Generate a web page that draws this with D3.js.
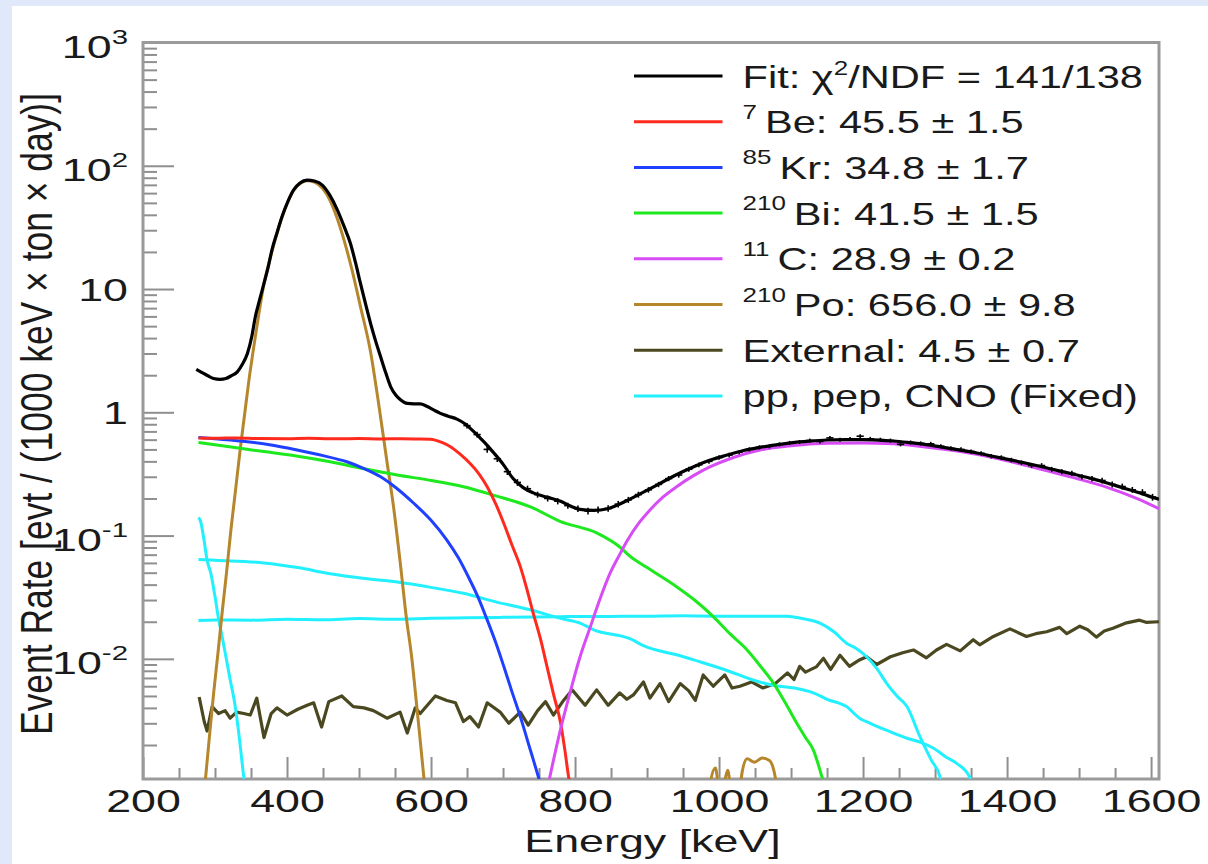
<!DOCTYPE html>
<html><head><meta charset="utf-8">
<script src="https://cdn.jsdelivr.net/npm/d3@7"></script>
<style>
body{margin:0;background:#dfe9fa;}
svg{display:block;}
text{font-family:"Liberation Sans",Arial,Helvetica,sans-serif;fill:#1a1a1a;}
</style>
</head><body>
<svg id="c" width="1208" height="864"></svg>
<script>
// ---------------- DATA ----------------
const energyDomain = [200, 1611];
const rateDomain = [1.06e-3, 1000];
const xMajorTicks = [200, 400, 600, 800, 1000, 1200, 1400, 1600];
const xTickLabels = ["200", "400", "600", "800", "1000", "1200", "1400", "1600"];
const yDecadeTicks = [1e-2, 1e-1, 1, 10, 100, 1000];
const yTickBase = ["10", "10", "1", "10", "10", "10"];
const yTickExp = ["-2", "-1", "", "", "2", "3"];
const xTitle = "Energy [keV]";
const yTitle = "Event Rate [evt / (1000 keV \u00d7 ton \u00d7 day)]";

const legendSup = ["", "7", "85", "210", "11", "210", "", ""];
const legendMain = ["Fit: \u03c7|2|/NDF = 141/138", "Be: 45.5 \u00b1 1.5", "Kr: 34.8 \u00b1 1.7", "Bi: 41.5 \u00b1 1.5",
  "C: 28.9 \u00b1 0.2", "Po: 656.0 \u00b1 9.8", "External: 4.5 \u00b1 0.7", "pp, pep, CNO (Fixed)"];

// Fit (black)
const fitE = [274,282,290,298,307,315,322,331,338,345,351,356,362,368,374,379,386,393,401,409,418,428,438,449,460,470,479,488,495,502,509,516,523,530,537,544,551,558,567,576,585,594,603,613,624,636,648,659,668,678,687,700,714,728,742,761,780,795,807,826,845,860,872,895,918,940,964,988,1011,1034,1057,1080,1100,1125,1150,1175,1200,1221,1242,1265,1290,1312,1335,1358,1380,1403,1427,1450,1474,1497,1520,1540,1560,1580,1596,1611];
const fitV = [2.23,2.1,1.98,1.88,1.85,1.88,1.97,2.13,2.45,3.0,4.1,5.96,8.2,11.1,15.2,20.7,28.5,38.6,51,63.5,72.5,76.6,75.2,69.7,57,43.7,32.5,23.5,16.5,11.1,7.6,5.27,3.8,2.82,2.1,1.61,1.38,1.26,1.18,1.17,1.17,1.12,1.05,0.98,0.93,0.88,0.80,0.70,0.62,0.54,0.47,0.38,0.29,0.245,0.222,0.205,0.19,0.172,0.163,0.16,0.165,0.178,0.192,0.225,0.265,0.31,0.36,0.41,0.45,0.49,0.52,0.545,0.565,0.583,0.596,0.60,0.60,0.595,0.585,0.567,0.545,0.52,0.494,0.468,0.44,0.413,0.386,0.36,0.333,0.31,0.287,0.266,0.245,0.226,0.21,0.197];

// Data points
const dataE = [650,664,678,692,706,720,734,748,762,776,790,804,818,832,846,860,874,888,902,916,930,944,958,972,986,1000,1014,1028,1042,1056,1070,1084,1098,1112,1126,1140,1154,1168,1182,1196,1210,1224,1238,1252,1266,1280,1294,1308,1322,1336,1350,1364,1378,1392,1406,1420,1434,1448,1462,1476,1490,1504,1518,1532,1546,1560,1574,1588,1602];
const dataV = [0.78,0.66,0.50,0.42,0.33,0.27,0.24,0.215,0.20,0.19,0.175,0.165,0.158,0.162,0.166,0.18,0.195,0.215,0.235,0.26,0.29,0.31,0.345,0.375,0.40,0.43,0.45,0.475,0.50,0.52,0.53,0.55,0.565,0.575,0.59,0.58,0.62,0.60,0.61,0.64,0.61,0.60,0.59,0.55,0.57,0.56,0.555,0.53,0.51,0.50,0.48,0.465,0.44,0.43,0.41,0.39,0.37,0.37,0.345,0.33,0.32,0.30,0.29,0.28,0.26,0.25,0.235,0.225,0.205];
const dataErr = [0.04,0.035,0.03,0.025,0.02,0.017,0.014,0.012,0.011,0.011,0.01,0.01,0.01,0.01,0.01,0.011,0.011,0.012,0.012,0.013,0.014,0.015,0.016,0.017,0.018,0.018,0.019,0.019,0.02,0.02,0.02,0.021,0.021,0.021,0.022,0.022,0.022,0.022,0.022,0.023,0.022,0.022,0.022,0.021,0.021,0.021,0.021,0.02,0.02,0.02,0.019,0.019,0.018,0.018,0.018,0.017,0.017,0.017,0.016,0.016,0.016,0.015,0.015,0.015,0.014,0.014,0.013,0.013,0.013];

// 7Be (red)
const beE = [277,300,330,360,400,430,460,500,530,560,580,599,615,627,640,654,666,678,690,701,712,724,733,742,752,761,770,780,786,791,796];
const beV = [0.62,0.615,0.62,0.612,0.61,0.615,0.61,0.612,0.608,0.61,0.608,0.605,0.57,0.526,0.46,0.386,0.32,0.249,0.18,0.126,0.085,0.056,0.037,0.0234,0.0145,0.0087,0.0052,0.003,0.0018,0.00111,0.0008];
// 85Kr (blue)
const krE = [277,300,345,380,414,450,483,507,530,553,576,600,622,638,654,666,678,690,701,712,724,737,749,756];
const krV = [0.625,0.61,0.578,0.54,0.494,0.445,0.397,0.35,0.30,0.24,0.183,0.133,0.092,0.066,0.0436,0.031,0.0207,0.0135,0.0087,0.0055,0.0034,0.0019,0.00111,0.0008];
// 210Bi (green)
const biE = [277,300,335,368,415,460,505,553,600,645,690,738,780,830,863,877,900,941,966,992,1015,1039,1057,1076,1092,1108,1120,1131,1143,1150];
const biV = [0.57,0.545,0.51,0.48,0.44,0.397,0.35,0.31,0.28,0.249,0.21,0.171,0.13,0.105,0.08,0.0675,0.055,0.0385,0.03,0.022,0.016,0.0118,0.0088,0.0063,0.0044,0.003,0.0023,0.00182,0.0011,0.0008];
// 11C (magenta)
const cE = [760,765,780,793,807,821,835,849,863,872,888,904,922,941,964,988,1020,1057,1100,1150,1200,1242,1290,1335,1380,1427,1460,1497,1540,1580,1611];
const cV = [0.0008,0.0011,0.0027,0.0053,0.0104,0.018,0.031,0.05,0.072,0.09,0.125,0.161,0.205,0.249,0.305,0.362,0.43,0.494,0.535,0.56,0.565,0.555,0.52,0.48,0.43,0.37,0.33,0.29,0.245,0.2,0.165];
// 210Po (brown)
const poE = [283,287,293,298,304,310,316,322,328,335,341,347,356,368,379,393,409,420,428,437,449,460,470,480,490,502,516,527,539,548,557,566,573,581,590,594,600,970,980,988,995,1001,1006,1012,1017,1026,1032,1039,1049,1060,1070,1078,1084,1095,1611];
const poV = [0.0006,0.0011,0.0026,0.0052,0.011,0.024,0.05,0.11,0.22,0.5,0.95,1.8,4.1,11,20,38,63,73,75.5,74,66,52,37,24,14.5,7.2,3.1,1.2,0.39,0.17,0.062,0.021,0.0105,0.0037,0.0011,0.0006,0.0002,0.0002,0.0004,0.001,0.0013,0.0008,0.0009,0.00125,0.0008,0.0006,0.0012,0.00155,0.00145,0.00157,0.0015,0.0011,0.0006,0.0002,0.0002];
// External (dark olive)
const extE = [278,285,289,296,305,314,321,330,340,349,358,368,378,386,400,415,428,437,448,458,476,492,507,520,539,557,567,578,585,606,622,634,645,654,666,678,696,708,724,735,748,759,770,784,796,814,830,846,862,872,881,895,904,918,930,946,958,967,978,992,1008,1018,1029,1045,1061,1078,1095,1104,1112,1120,1135,1145,1155,1168,1181,1195,1205,1219,1238,1255,1270,1288,1302,1316,1335,1353,1362,1381,1404,1427,1440,1455,1473,1483,1501,1512,1524,1535,1547,1566,1584,1593,1611];
const extV = [0.0049,0.0031,0.0026,0.0041,0.0036,0.0038,0.0033,0.0037,0.0036,0.0035,0.0048,0.0023,0.0036,0.004,0.0035,0.0039,0.0042,0.0044,0.0028,0.0045,0.005,0.0041,0.004,0.0038,0.0033,0.0037,0.0025,0.004,0.0036,0.005,0.0046,0.0044,0.0031,0.0034,0.0028,0.0044,0.0037,0.003,0.0037,0.0029,0.0038,0.0045,0.0035,0.0046,0.0056,0.0042,0.0056,0.0042,0.0053,0.0047,0.0051,0.0065,0.0048,0.0063,0.0045,0.0063,0.0055,0.0046,0.0074,0.006,0.0074,0.0058,0.006,0.0065,0.0058,0.0063,0.0077,0.0068,0.0087,0.0078,0.0086,0.0101,0.0082,0.0107,0.0087,0.0098,0.0104,0.009,0.0104,0.0112,0.0118,0.0102,0.0118,0.0131,0.0116,0.0143,0.013,0.0152,0.0175,0.0152,0.016,0.0166,0.018,0.016,0.0184,0.0172,0.015,0.0168,0.0177,0.0196,0.0206,0.0198,0.02];
// pp (cyan, steep)
const ppE = [277,280,285,289,294,300,305,310,316,321,327,333,340,345];
const ppV = [0.14,0.13,0.09,0.063,0.05,0.032,0.021,0.015,0.0098,0.0068,0.0045,0.0025,0.0011,0.0007];
// pep (cyan, flat)
const pepE = [277,300,350,400,450,500,550,600,650,700,780,850,900,950,1000,1050,1094,1120,1140,1160,1177,1190,1205,1220,1233,1247,1261,1279,1295,1307,1312];
const pepV = [0.0205,0.0207,0.0206,0.021,0.0208,0.0212,0.021,0.0213,0.0215,0.0217,0.022,0.0221,0.0222,0.0224,0.0222,0.0222,0.0222,0.021,0.0195,0.0165,0.0134,0.0122,0.0104,0.0082,0.0063,0.005,0.0041,0.00234,0.0015,0.0011,0.0008];
// CNO (cyan)
const cnoE = [277,300,368,415,460,505,553,600,645,690,738,780,807,826,877,895,946,965,1015,1045,1075,1105,1131,1150,1177,1195,1210,1235,1261,1280,1298,1315,1330,1348,1353];
const cnoV = [0.064,0.063,0.06,0.055,0.049,0.045,0.042,0.038,0.034,0.029,0.025,0.0213,0.0195,0.0172,0.0145,0.0128,0.0106,0.0098,0.0079,0.0068,0.0061,0.0058,0.0053,0.0047,0.0041,0.0033,0.003,0.0026,0.00227,0.0021,0.00188,0.0016,0.00142,0.0011,0.0008];

// ---------------- DRAWING ----------------
const W = 1208, H = 864;
const plot = {left: 143, right: 1159, top: 42.5, bottom: 779};
const SX = 1.4;         // horizontal stretch of the original picture's text
const FONT = 32;

const svg = d3.select("#c");
svg.append("rect").attr("width", W).attr("height", H).attr("fill", "#dfe9fa");
svg.append("rect").attr("x", 12).attr("y", 6).attr("width", W - 12).attr("height", H - 6).attr("fill", "#ffffff");

const x = d3.scaleLinear().domain(energyDomain).range([plot.left, plot.right]);
const y = d3.scaleLog().domain(rateDomain).range([plot.bottom, plot.top]);

svg.append("clipPath").attr("id", "clip").append("rect")
  .attr("x", plot.left).attr("y", plot.top)
  .attr("width", plot.right - plot.left).attr("height", plot.bottom - plot.top);

const gridCol = "#8f8f8f";

// Axes (ticks point inward)
const xMinor = d3.range(250, 1611, 50).filter(v => v % 200 !== 0);
svg.append("g").attr("transform", `translate(0,${plot.bottom})`)
  .call(d3.axisBottom(x).tickValues(xMinor).tickSizeInner(-11).tickSizeOuter(0).tickFormat(""))
  .call(g => g.select(".domain").remove())
  .call(g => g.selectAll("line").attr("stroke", gridCol).attr("stroke-width", 2));
const xAx = svg.append("g").attr("transform", `translate(0,${plot.bottom})`)
  .call(d3.axisBottom(x).tickValues(xMajorTicks).tickSizeInner(-22).tickSizeOuter(0).tickFormat(""))
  .call(g => g.select(".domain").remove())
  .call(g => g.selectAll("line").attr("stroke", gridCol).attr("stroke-width", 2));
xAx.selectAll(".tick").each(function(d, i) {
  d3.select(this).append("text")
    .attr("transform", `translate(0,33) scale(${SX},1)`)
    .attr("text-anchor", "middle").style("font-size", FONT + "px")
    .attr("fill", "#1a1a1a").text(xTickLabels[i]);
});

const yMinor = [];
[1e-3, 1e-2, 1e-1, 1, 10, 100].forEach(dec => { for (let m = 2; m <= 9; m++) { const v = dec * m; if (v >= rateDomain[0] && v <= rateDomain[1]) yMinor.push(v); } });
svg.append("g").attr("transform", `translate(${plot.left},0)`)
  .call(d3.axisLeft(y).tickValues(yMinor).tickSizeInner(-14).tickSizeOuter(0).tickFormat(""))
  .call(g => g.select(".domain").remove())
  .call(g => g.selectAll("line").attr("stroke", gridCol).attr("stroke-width", 2));
const yAx = svg.append("g").attr("transform", `translate(${plot.left},0)`)
  .call(d3.axisLeft(y).tickValues(yDecadeTicks).tickSizeInner(-31).tickSizeOuter(0).tickFormat(""))
  .call(g => g.select(".domain").remove())
  .call(g => g.selectAll("line").attr("stroke", gridCol).attr("stroke-width", 2));
yAx.selectAll(".tick").each(function(d, i) {
  const hasExp = yTickExp[i] !== "";
  const t = d3.select(this).append("text")
    .attr("transform", `translate(-15,${hasExp ? 15 : 11.5}) scale(${SX},1)`)
    .attr("text-anchor", "end").style("font-size", FONT + "px").attr("fill", "#1a1a1a");
  t.append("tspan").text(yTickBase[i]);
  if (hasExp) t.append("tspan").attr("dy", -14).style("font-size", "21px").text(yTickExp[i]);
});

// Frame
svg.append("rect").attr("x", plot.left).attr("y", plot.top)
  .attr("width", plot.right - plot.left).attr("height", plot.bottom - plot.top)
  .attr("fill", "none").attr("stroke", "#9a9a9a").attr("stroke-width", 3);

// Titles
svg.append("text").attr("transform", `translate(652.5,851.5) scale(${SX},1)`)
  .attr("text-anchor", "middle").style("font-size", FONT + "px").text(xTitle);
svg.append("text").attr("transform", `translate(52,414) scale(${SX},1) rotate(-90)`)
  .attr("text-anchor", "middle").style("font-size", FONT + "px")
  .attr("textLength", 642).attr("lengthAdjust", "spacingAndGlyphs").text(yTitle);

// Curves
const plotArea = svg.append("g").attr("clip-path", "url(#clip)");
function drawSeries(E, V, color, width, curve) {
  const pts = E.map((e, i) => [e, V[i]]);
  plotArea.append("path").datum(pts)
    .attr("fill", "none").attr("stroke", color).attr("stroke-width", width)
    .attr("stroke-linejoin", "round")
    .attr("d", d3.line().x(d => x(d[0])).y(d => y(d[1])).curve(curve));
}
const colors = {fit: "#000000", be: "#ff2a1e", kr: "#2040ff", bi: "#1ee81e", c: "#d84cf6", po: "#b5862b", ext: "#4a4820", nu: "#22f0ff"};

drawSeries(extE, extV, colors.ext, 3.2, d3.curveLinear);
drawSeries(ppE, ppV, colors.nu, 3, d3.curveMonotoneX);
drawSeries(pepE, pepV, colors.nu, 3, d3.curveMonotoneX);
drawSeries(cnoE, cnoV, colors.nu, 3, d3.curveMonotoneX);
drawSeries(poE, poV, colors.po, 3, d3.curveMonotoneX);
drawSeries(biE, biV, colors.bi, 3, d3.curveMonotoneX);
drawSeries(krE, krV, colors.kr, 3, d3.curveMonotoneX);
drawSeries(beE, beV, colors.be, 3, d3.curveMonotoneX);
drawSeries(cE, cV, colors.c, 3, d3.curveMonotoneX);

// data points with error bars
const dp = plotArea.append("g").attr("stroke", "#000").attr("stroke-width", 1.6);
dataE.forEach((e, i) => {
  const v = dataV[i], er = dataErr[i];
  dp.append("line").attr("x1", x(e - 5)).attr("x2", x(e + 5)).attr("y1", y(v)).attr("y2", y(v));
  dp.append("line").attr("x1", x(e)).attr("x2", x(e)).attr("y1", y(v - er)).attr("y2", y(v + er));
});
drawSeries(fitE, fitV, colors.fit, 3.2, d3.curveMonotoneX);

// Legend
const legendColors = [colors.fit, colors.be, colors.kr, colors.bi, colors.c, colors.po, colors.ext, colors.nu];
const LSX = 1.3;
legendMain.forEach((label, i) => {
  const ly = 76 + i * 45.7;
  svg.append("line").attr("x1", 634).attr("x2", 722.5).attr("y1", ly).attr("y2", ly)
    .attr("stroke", legendColors[i]).attr("stroke-width", 3);
  let tx = 742.5;
  if (legendSup[i]) {
    const s = svg.append("text").attr("transform", `translate(${tx},${ly - 3}) scale(${LSX},1)`)
      .style("font-size", "20px").text(legendSup[i]);
    tx += s.node().getComputedTextLength() * LSX + 8;
  }
  const t = svg.append("text").attr("transform", `translate(${tx},${ly + 11.5}) scale(${LSX},1)`)
    .style("font-size", FONT + "px");
  const parts = label.split("|");
  parts.forEach((p, k) => {
    if (k % 2 === 1) t.append("tspan").attr("dy", -13).style("font-size", "20px").text(p);
    else t.append("tspan").attr("dy", k === 0 ? 0 : 13).text(p);
  });
});
</script>
</body></html>
